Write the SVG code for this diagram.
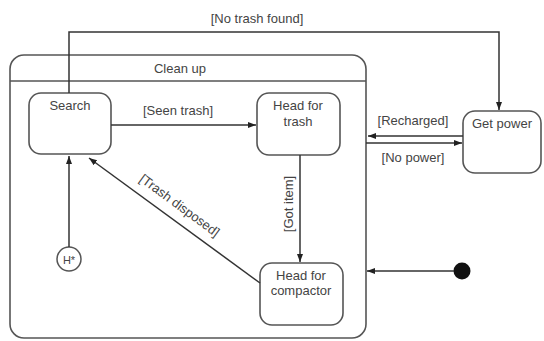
<svg xmlns="http://www.w3.org/2000/svg" width="544" height="341" viewBox="0 0 544 341">
<defs>
<marker id="arr" markerUnits="userSpaceOnUse" markerWidth="9" markerHeight="8" refX="8" refY="4" orient="auto">
<path d="M0,1 L8,4 L0,7 Z" fill="#222"/>
</marker>
<style>
.box{fill:#fff;stroke:#555;stroke-width:1.6}
.ln{fill:none;stroke:#333;stroke-width:1.5;marker-end:url(#arr)}
text{font-family:"Liberation Sans",Arial,sans-serif;font-size:13px;fill:#444;text-anchor:middle}
</style>
</defs>
<rect width="544" height="341" fill="#fff"/>
<g id="cleanup">
<rect class="box" x="10" y="55" width="356" height="283" rx="14"/>
<line x1="10" y1="81" x2="366" y2="81" stroke="#555" stroke-width="1.6"/>
<text x="180" y="73">Clean up</text>
</g>
<g id="search">
<rect class="box" x="29" y="93" width="82" height="61" rx="12"/>
<text x="70" y="110">Search</text>
</g>
<g id="headtrash">
<rect class="box" x="257" y="93" width="83" height="62" rx="12"/>
<text x="298" y="110">Head for</text>
<text x="298" y="126">trash</text>
</g>
<g id="headcompactor">
<rect class="box" x="260" y="263" width="83" height="62" rx="12"/>
<text x="301" y="280">Head for</text>
<text x="301" y="295">compactor</text>
</g>
<g id="getpower">
<rect class="box" x="463" y="111" width="78" height="62" rx="12"/>
<text x="502" y="128">Get power</text>
</g>
<g id="history">
<circle cx="69" cy="259" r="12" fill="#fff" stroke="#555" stroke-width="1.5"/>
<text x="69" y="264" style="font-size:11px">H*</text>
</g>
<g id="initial">
<circle cx="462" cy="271" r="8.5" fill="#111"/>
</g>
<g id="connectors">
<path class="ln" d="M69,93 L69,32 L499,32 L499,110"/>
<text x="257" y="23">[No trash found]</text>
<path class="ln" d="M111,125 L256,125"/>
<text x="178" y="115">[Seen trash]</text>
<path class="ln" d="M300,155 L300,262"/>
<text transform="translate(293,204) rotate(-90)">[Got item]</text>
<path class="ln" d="M260,283 L89,158"/>
<text transform="translate(177,209) rotate(36.3)">[Trash disposed]</text>
<path class="ln" d="M69,247 L69,156"/>
<path class="ln" d="M463,136 L368,136"/>
<text x="413" y="125">[Recharged]</text>
<path class="ln" d="M366,143 L462,143"/>
<text x="413" y="162">[No power]</text>
<path class="ln" d="M454,271 L367,271"/>
</g>
</svg>
